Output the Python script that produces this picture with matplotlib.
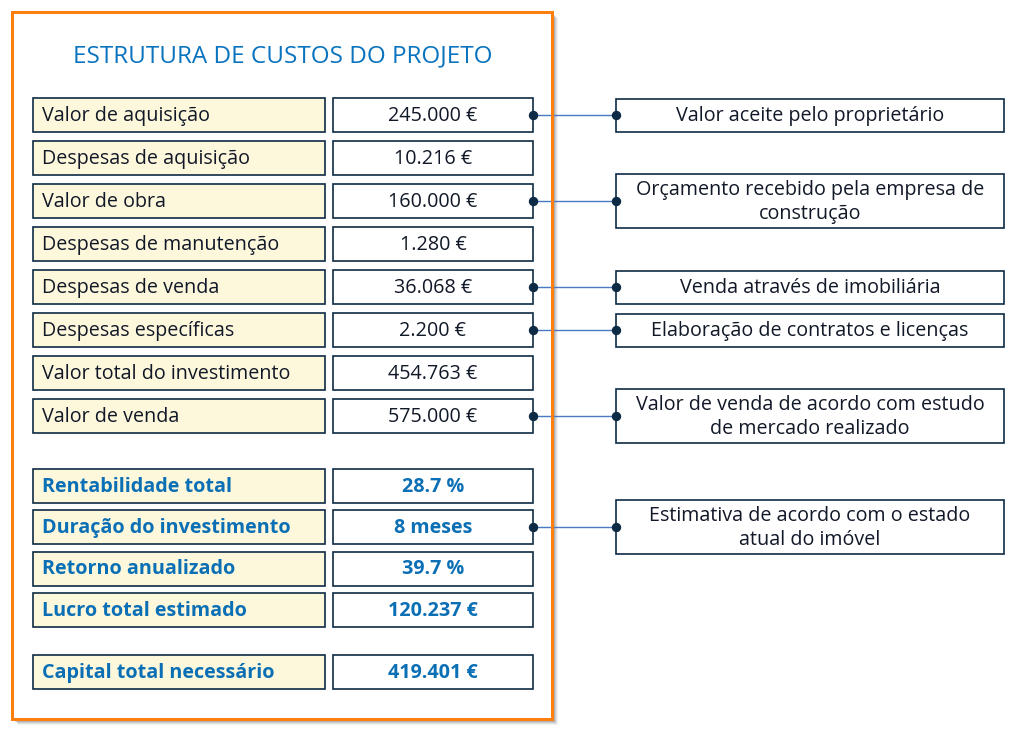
import matplotlib
matplotlib.use("Agg")
import matplotlib.pyplot as plt
from matplotlib.patches import Rectangle

# ---------------- data ----------------
title = "ESTRUTURA DE CUSTOS DO PROJETO"
cost_labels = ["Valor de aquisição", "Despesas de aquisição", "Valor de obra",
               "Despesas de manutenção", "Despesas de venda", "Despesas específicas",
               "Valor total do investimento", "Valor de venda"]
cost_values = ["245.000 €", "10.216 €", "160.000 €", "1.280 €", "36.068 €",
               "2.200 €", "454.763 €", "575.000 €"]
kpi_labels = ["Rentabilidade total", "Duração do investimento", "Retorno anualizado",
              "Lucro total estimado", "Capital total necessário"]
kpi_values = ["28.7 %", "8 meses", "39.7 %", "120.237 €", "419.401 €"]
cost_note_rows = [0, 2, 4, 5, 7]
cost_note_texts = ["Valor aceite pelo proprietário",
                   "Orçamento recebido pela empresa de\nconstrução",
                   "Venda através de imobiliária",
                   "Elaboração de contratos e licenças",
                   "Valor de venda de acordo com estudo\nde mercado realizado"]
kpi_note_rows = [1]
kpi_note_texts = ["Estimativa de acordo com o estado\natual do imóvel"]

# ---------------- style / layout ----------------
plt.rcParams["font.family"] = ["Open Sans", "DejaVu Sans"]
W, H = 1012, 730
NAVY = "#0d2b45"
BLUE = "#0b6fb5"
TITLE_BLUE = "#0a73be"
CREAM = "#fdf8dc"
ORANGE = "#ff7f0e"
LINE = "#4a78c2"
PT = 0.72  # px -> pt at 100 dpi

fig = plt.figure(figsize=(W / 100, H / 100), dpi=100)
ax = fig.add_axes([0, 0, 1, 1])
ax.set_xlim(0, W)
ax.set_ylim(H, 0)
ax.axis("off")

# frame with soft shadow
fx0, fy0, fx1, fy1 = 12, 12, 552, 719
for k, a in [(6, 0.05), (5, 0.07), (4, 0.09), (3, 0.12), (2, 0.15)]:
    ax.add_patch(Rectangle((fx0 + k, fy0 + k), fx1 - fx0, fy1 - fy0,
                           facecolor="#000000", alpha=a, edgecolor="none", zorder=0))
ax.add_patch(Rectangle((fx0, fy0), fx1 - fx0, fy1 - fy0, facecolor="white",
                       edgecolor="none", zorder=1))
ax.add_patch(Rectangle((fx0, fy0), fx1 - fx0, fy1 - fy0, facecolor="none",
                       edgecolor=ORANGE, lw=3 * PT, zorder=6))

ax.text(283, 56, title, ha="center", va="center", fontsize=17.5,
        color=TITLE_BLUE, zorder=5)

LX0, LX1 = 33, 325
RX0, RX1 = 333, 533
BH = 34
NX0, NX1 = 616, 1004
FS = 14.2


def row(yc, label, value, bold):
    ax.add_patch(Rectangle((LX0, yc - BH / 2), LX1 - LX0, BH, facecolor=CREAM,
                           edgecolor=NAVY, lw=1.2, zorder=3))
    ax.add_patch(Rectangle((RX0, yc - BH / 2), RX1 - RX0, BH, facecolor="white",
                           edgecolor=NAVY, lw=1.2, zorder=3))
    col = BLUE if bold else "#111827"
    fw = "bold" if bold else "normal"
    ax.text(LX0 + 9, yc + 1, label, ha="left", va="center", fontsize=FS,
            color=col, fontweight=fw, zorder=4)
    ax.text((RX0 + RX1) / 2, yc + 1, value, ha="center", va="center", fontsize=FS,
            color=col, fontweight=fw, zorder=4)


def note(yc, text):
    nl = text.count("\n") + 1
    h = 33 if nl == 1 else 54
    ax.add_patch(Rectangle((NX0, yc - h / 2), NX1 - NX0, h, facecolor="white",
                           edgecolor=NAVY, lw=1.2, zorder=3))
    ax.text((NX0 + NX1) / 2, yc + 1, text, ha="center", va="center", fontsize=FS,
            color="#111827", linespacing=1.25, zorder=4)
    ax.plot([RX1, NX0], [yc, yc], color=LINE, lw=1.0, zorder=2)
    ax.plot([RX1, NX0], [yc, yc], ls="none", marker="o", ms=8 * PT,
            color=NAVY, zorder=7)


top_y0, top_pitch = 115, 43
cost_y = [top_y0 + top_pitch * i for i in range(len(cost_labels))]
for yc, lab, val in zip(cost_y, cost_labels, cost_values):
    row(yc, lab, val, False)

kpi_y0, kpi_pitch = 485.5, 41.5
kpi_slots = [0, 1, 2, 3, 4.5]
kpi_y = [kpi_y0 + kpi_pitch * s for s in kpi_slots]
for yc, lab, val in zip(kpi_y, kpi_labels, kpi_values):
    row(yc, lab, val, True)

for r, t in zip(cost_note_rows, cost_note_texts):
    note(cost_y[r], t)
for r, t in zip(kpi_note_rows, kpi_note_texts):
    note(kpi_y[r], t)

fig.savefig("out.png", dpi=100)
